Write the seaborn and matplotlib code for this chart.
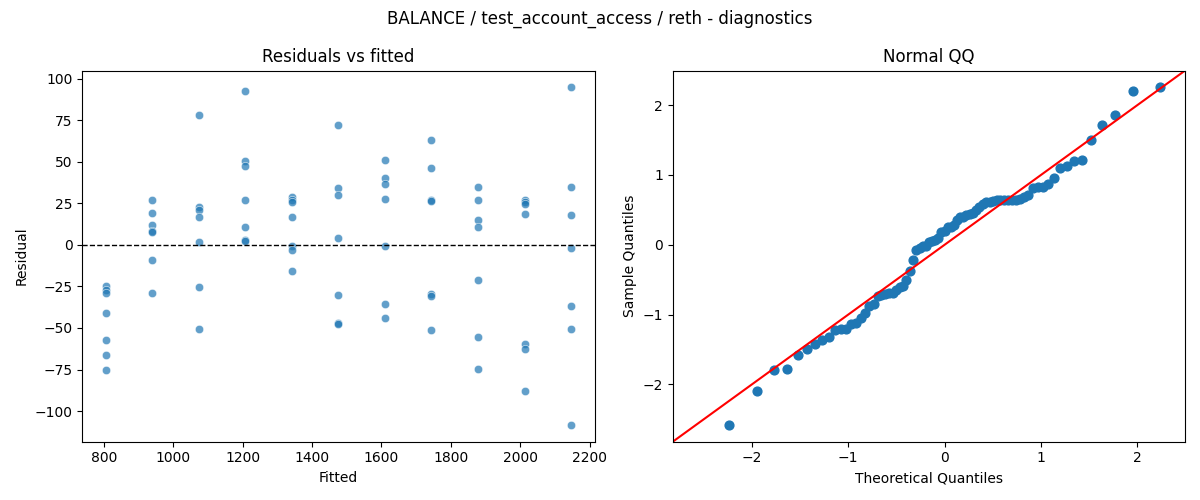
import numpy as np
import pandas as pd
import matplotlib
matplotlib.use("Agg")
import matplotlib.pyplot as plt
import seaborn as sns
from statistics import NormalDist

# fitted levels and the residuals read at each level
fitted_levels = [805, 939, 1073, 1208, 1342, 1476, 1610, 1744, 1879, 2013, 2147]
residual_groups = [
    [-25.0, -27.0, -29.0, -41.0, -57.1, -66.3, -75.2],
    [27.0, 19.0, 11.8, 8.4, 8.0, -9.2, -29.0],
    [77.9, 22.8, 21.0, 17.0, 1.6, -25.4, -50.6],
    [92.3, 50.5, 47.3, 27.0, 10.8, 3.0, 2.6],
    [29.0, 27.0, 26.0, 16.8, -0.4, -3.0, -15.8],
    [71.9, 34.0, 29.8, 4.0, -30.2, -47.3, -47.6],
    [50.8, 40.0, 36.8, 27.4, -0.8, -35.6, -44.0],
    [62.9, 46.0, 27.0, 26.4, -29.4, -30.8, -51.1],
    [34.6, 26.8, 14.8, 11.0, -21.2, -55.4, -74.7],
    [27.0, 25.6, 24.6, 18.4, -59.5, -62.6, -87.9],
    [94.7, 34.6, 17.8, -2.0, -36.8, -50.6, -108.3],
]

fitted = [f for f, grp in zip(fitted_levels, residual_groups) for _ in grp]
residual = [r for grp in residual_groups for r in grp]
df = pd.DataFrame({"Fitted": fitted, "Residual": residual})

# normal QQ: standardized residuals vs normal quantiles
res = np.sort(np.array(residual))
n = len(res)
sample_q = (res - res.mean()) / res.std()
theo_q = np.array([NormalDist().inv_cdf(i / (n + 1)) for i in range(1, n + 1)])
qq = pd.DataFrame({"Theoretical Quantiles": theo_q, "Sample Quantiles": sample_q})

fig, axes = plt.subplots(1, 2, figsize=(12, 5), dpi=100)

# Residuals vs fitted
ax = axes[0]
sns.scatterplot(data=df, x="Fitted", y="Residual", alpha=0.7, ax=ax)
ax.axhline(0, color="k", linestyle="--", linewidth=1)
ax.set_title("Residuals vs fitted")

# Normal QQ
ax = axes[1]
sns.scatterplot(data=qq, x="Theoretical Quantiles", y="Sample Quantiles",
                s=40, color="C0", edgecolor="C0", linewidth=1, ax=ax)
xl = ax.get_xlim()
yl = ax.get_ylim()
lo = min(xl[0], yl[0])
hi = max(xl[1], yl[1])
ax.plot([lo, hi], [lo, hi], color="r")
ax.set_xlim(lo, hi)
ax.set_ylim(lo, hi)
ax.set_title("Normal QQ")

fig.suptitle("BALANCE / test_account_access / reth - diagnostics")
plt.tight_layout()
plt.savefig("out.png")
